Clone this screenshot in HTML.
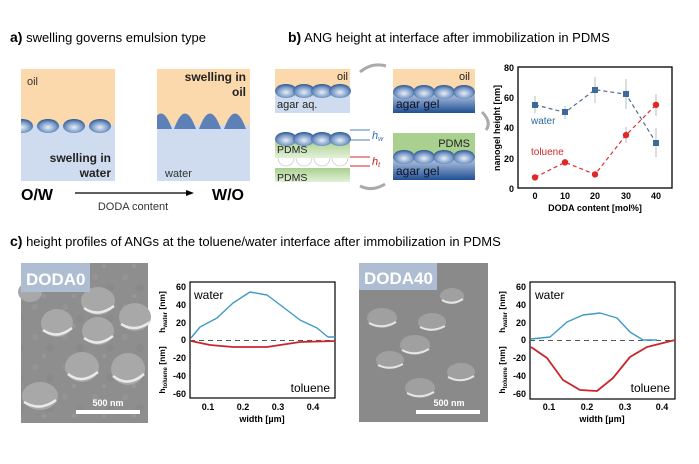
<!DOCTYPE html>
<html><head><meta charset="utf-8"><style>
body{margin:0;background:#fff;}
svg{display:block;font-family:"Liberation Sans",Arial,sans-serif;}
</style></head><body>
<svg width="699" height="464" viewBox="0 0 699 464" xmlns="http://www.w3.org/2000/svg">
<defs>
<radialGradient id="ng" cx="0.5" cy="0.6" r="0.6"><stop offset="0" stop-color="#e8eef6"/><stop offset="0.6" stop-color="#7c9cc8"/><stop offset="1" stop-color="#2d5591"/></radialGradient>
<linearGradient id="gel" x1="0" y1="0" x2="0" y2="1"><stop offset="0" stop-color="#c9d7ee"/><stop offset="1" stop-color="#1f4f93"/></linearGradient>
<linearGradient id="pd" x1="0" y1="0" x2="0" y2="1"><stop offset="0" stop-color="#a9d08e"/><stop offset="1" stop-color="#e2f0d8"/></linearGradient>
<pattern id="semA" width="30" height="30" patternUnits="userSpaceOnUse"><rect width="30" height="30" fill="#8e8e8e"/><circle cx="5" cy="7" r="3" fill="#949494"/><circle cx="20" cy="18" r="4" fill="#8a8a8a"/><circle cx="14" cy="26" r="2" fill="#979797"/></pattern>
<g id="dome"><ellipse cx="0" cy="0" rx="11" ry="7" fill="url(#ng)"/></g>
</defs>

<text x="10" y="42" font-size="13"><tspan font-weight="bold" font-size="14">a)</tspan> swelling governs emulsion type</text>
<text x="288" y="42" font-size="13"><tspan font-weight="bold" font-size="14">b)</tspan> ANG height at interface after immobilization in PDMS</text>
<text x="10" y="246" font-size="13"><tspan font-weight="bold" font-size="14">c)</tspan>  height profiles of ANGs at the toluene/water interface after immobilization in PDMS</text>

<!-- panel a -->
<clipPath id="ca"><rect x="21" y="69" width="94" height="112"/></clipPath>
<clipPath id="cb"><rect x="157" y="69" width="93" height="112"/></clipPath>
<rect x="21" y="69" width="94" height="56" fill="#fbd9ad"/>
<rect x="21" y="125" width="94" height="56" fill="#cfdcef"/>
<g clip-path="url(#ca)"><use href="#dome" x="22" y="126"/><use href="#dome" x="48" y="126"/><use href="#dome" x="74" y="126"/><use href="#dome" x="100" y="126"/></g>
<text x="27" y="85" font-size="11" fill="#333">oil</text>
<text x="111" y="162" font-size="12" font-weight="bold" text-anchor="end" fill="#222">swelling in</text>
<text x="111" y="177" font-size="12" font-weight="bold" text-anchor="end" fill="#222">water</text>
<rect x="157" y="69" width="93" height="56" fill="#fbd9ad"/>
<rect x="157" y="125" width="93" height="56" fill="#cfdcef"/>
<g clip-path="url(#cb)"><path d="M150 129 Q161 98 172 129Z M174 129 Q185 98 196 129Z M199 129 Q210 98 221 129Z M224 129 Q235 98 246 129Z" fill="#5d80b8"/></g>
<text x="246" y="81" font-size="12" font-weight="bold" text-anchor="end" fill="#222">swelling in</text>
<text x="246" y="96" font-size="12" font-weight="bold" text-anchor="end" fill="#222">oil</text>
<text x="165" y="177" font-size="11" fill="#333">water</text>
<text x="21" y="200" font-size="16" font-weight="bold">O/W</text>
<text x="212" y="200" font-size="16" font-weight="bold">W/O</text>
<line x1="75" y1="193" x2="188" y2="193" stroke="#000" stroke-width="1.3"/>
<polygon points="194,193 186,190 186,196" fill="#000"/>
<text x="133" y="210" font-size="11" text-anchor="middle" fill="#333">DODA content</text>

<!-- panel b schematics -->
<rect x="275" y="69" width="75" height="22" fill="#fbd9ad"/>
<rect x="275" y="91" width="75" height="22" fill="#cfdcef"/>
<use href="#dome" x="286" y="91"/><use href="#dome" x="304" y="91"/><use href="#dome" x="322" y="91"/><use href="#dome" x="340" y="91"/>
<text x="277" y="108" font-size="11" fill="#222">agar aq.</text>
<text x="337" y="80" font-size="11" fill="#222">oil</text>
<rect x="275" y="140" width="75" height="18" fill="url(#pd)"/>
<use href="#dome" x="286" y="139"/><use href="#dome" x="304" y="139"/><use href="#dome" x="322" y="139"/><use href="#dome" x="340" y="139"/>
<text x="277" y="153" font-size="10.5" fill="#222">PDMS</text>
<rect x="275" y="168" width="75" height="14" fill="url(#pd)"/>
<g fill="#fff" stroke="#bbb" stroke-width="0.6"><path d="M278 158 a8 8 0 0 0 16 0"/><path d="M296 158 a8 8 0 0 0 16 0"/><path d="M314 158 a8 8 0 0 0 16 0"/><path d="M332 158 a8 8 0 0 0 16 0"/></g>
<text x="277" y="181" font-size="10.5" fill="#222">PDMS</text>
<line x1="350" y1="130" x2="370" y2="130" stroke="#4a7fc0"/><line x1="350" y1="140" x2="370" y2="140" stroke="#4a7fc0"/>
<text x="372" y="139" font-size="11" font-style="italic" fill="#2f6db5">h<tspan font-size="7" dy="2">w</tspan></text>
<line x1="350" y1="157" x2="370" y2="157" stroke="#d02828"/><line x1="350" y1="166" x2="370" y2="166" stroke="#d02828"/>
<text x="372" y="165" font-size="11" font-style="italic" fill="#c02020">h<tspan font-size="7" dy="2">t</tspan></text>
<rect x="393" y="69" width="82" height="22" fill="#fbd9ad"/>
<rect x="393" y="91" width="82" height="22" fill="url(#gel)"/>
<use href="#dome" x="404" y="92"/><use href="#dome" x="424" y="92"/><use href="#dome" x="444" y="92"/><use href="#dome" x="464" y="92"/>
<text x="470" y="80" font-size="11" text-anchor="end" fill="#222">oil</text>
<text x="396" y="108" font-size="12" fill="#112">agar gel</text>
<rect x="393" y="133" width="82" height="23" fill="#a9d08e"/>
<rect x="393" y="156" width="82" height="24" fill="url(#gel)"/>
<use href="#dome" x="404" y="157"/><use href="#dome" x="424" y="157"/><use href="#dome" x="444" y="157"/><use href="#dome" x="464" y="157"/>
<text x="470" y="147" font-size="11" text-anchor="end" fill="#222">PDMS</text>
<text x="396" y="175" font-size="12" fill="#112">agar gel</text>
<g fill="none" stroke="#aaa" stroke-width="3"><path d="M360 72 Q372 62 386 66"/><path d="M482 112 Q492 122 486 130"/><path d="M385 184 Q372 192 360 186"/></g>

<!-- chart b -->
<rect x="518" y="67" width="154" height="121" fill="none" stroke="#000" stroke-width="1.3"/>
<g font-size="9" font-weight="bold" text-anchor="end">
<text x="514" y="71">80</text><text x="514" y="101">60</text><text x="514" y="131">40</text><text x="514" y="162">20</text><text x="514" y="192">0</text></g>
<g font-size="9" font-weight="bold" text-anchor="middle">
<text x="535" y="199">0</text><text x="565" y="199">10</text><text x="595" y="199">20</text><text x="626" y="199">30</text><text x="656" y="199">40</text></g>
<text x="595" y="211" font-size="9" font-weight="bold" text-anchor="middle">DODA content [mol%]</text>
<text transform="translate(500,128) rotate(-90)" font-size="9" font-weight="bold" text-anchor="middle">nanogel height [nm]</text>
<g stroke="#bbb" stroke-width="1"><line x1="565" y1="106" x2="565" y2="119"/><line x1="595" y1="77" x2="595" y2="103"/><line x1="626" y1="79" x2="626" y2="109"/><line x1="656" y1="128" x2="656" y2="157"/><line x1="535" y1="96" x2="535" y2="113"/><line x1="656" y1="94" x2="656" y2="116"/><line x1="626" y1="127" x2="626" y2="143"/></g>
<polyline points="535,104.8 565,112.4 595,89.7 626,94.2 656,142.6" fill="none" stroke="#4f6f8f" stroke-width="1.2" stroke-dasharray="4,3"/>
<polyline points="535,177.4 565,162.3 595,174.4 626,135.1 656,104.8" fill="none" stroke="#e03030" stroke-width="1.2" stroke-dasharray="4,3"/>
<g fill="#3d6a99"><rect x="532" y="102" width="6" height="6"/><rect x="562" y="109" width="6" height="6"/><rect x="592" y="87" width="6" height="6"/><rect x="623" y="91" width="6" height="6"/><rect x="653" y="140" width="6" height="6"/></g>
<g fill="#e02828"><circle cx="535" cy="177.4" r="3.2"/><circle cx="565" cy="162.3" r="3.2"/><circle cx="595" cy="174.4" r="3.2"/><circle cx="626" cy="135.1" r="3.2"/><circle cx="656" cy="104.8" r="3.2"/></g>
<text x="531" y="124" font-size="10" fill="#2f6a9c">water</text>
<text x="531" y="155" font-size="10" fill="#d02828">toluene</text>

<!-- SEM images -->
<rect x="21" y="263" width="127" height="160" fill="url(#semA)"/>
<g fill="#a8a8a8"><ellipse cx="98" cy="301" rx="17" ry="14"/><ellipse cx="57" cy="323" rx="16" ry="14"/><ellipse cx="98" cy="331" rx="16" ry="14"/><ellipse cx="135" cy="317" rx="16" ry="14"/><ellipse cx="82" cy="367" rx="17" ry="15"/><ellipse cx="128" cy="369" rx="17" ry="16"/><ellipse cx="40" cy="396" rx="18" ry="14"/><ellipse cx="30" cy="292" rx="12" ry="10"/></g>
<g fill="none" stroke="#eaeaea" stroke-width="2.5"><path d="M84 308 Q98 318 114 306"/><path d="M43 330 Q57 340 72 328"/><path d="M84 338 Q98 348 113 336"/><path d="M121 324 Q135 333 150 322"/><path d="M68 374 Q82 385 98 372"/><path d="M113 376 Q128 388 144 374"/><path d="M24 402 Q40 412 56 400"/></g>
<rect x="21" y="263" width="69" height="29" fill="#aebdd1"/>
<text x="26" y="285" font-size="17" font-weight="bold" fill="#fff">DODA0</text>
<rect x="76" y="410" width="64" height="4" fill="#fff"/>
<text x="108" y="406" font-size="9" font-weight="bold" fill="#fff" text-anchor="middle">500 nm</text>

<rect x="359" y="263" width="129" height="159" fill="#8a8a8a"/>
<g fill="#a0a0a0"><ellipse cx="452" cy="296" rx="12" ry="8"/><ellipse cx="382" cy="318" rx="15" ry="10"/><ellipse cx="432" cy="322" rx="14" ry="9"/><ellipse cx="415" cy="345" rx="15" ry="10"/><ellipse cx="390" cy="360" rx="14" ry="9"/><ellipse cx="461" cy="372" rx="14" ry="9"/><ellipse cx="420" cy="388" rx="15" ry="10"/></g>
<g fill="none" stroke="#e6e6e6" stroke-width="2"><path d="M442 300 Q452 306 463 299"/><path d="M369 323 Q382 330 396 322"/><path d="M420 327 Q432 333 445 326"/><path d="M402 350 Q415 357 429 349"/><path d="M378 365 Q390 371 403 364"/><path d="M448 377 Q461 384 474 376"/><path d="M407 393 Q420 400 434 392"/></g>
<rect x="359" y="263" width="78" height="27" fill="#aebdd1"/>
<text x="364" y="284" font-size="17" font-weight="bold" fill="#fff">DODA40</text>
<rect x="416" y="410" width="64" height="4" fill="#fff"/>
<text x="449" y="406" font-size="9" font-weight="bold" fill="#fff" text-anchor="middle">500 nm</text>

<!-- chart c1 -->
<g>
<rect x="190" y="282" width="145" height="116" fill="none" stroke="#000" stroke-width="1.2"/>
<g font-size="9" font-weight="bold" text-anchor="end">
<text x="186" y="290">60</text><text x="186" y="308">40</text><text x="186" y="326">20</text><text x="186" y="343">0</text><text x="186" y="361">-20</text><text x="186" y="379">-40</text><text x="186" y="397">-60</text></g>
<g font-size="9" font-weight="bold" text-anchor="middle"><text x="208" y="410">0.1</text><text x="243" y="410">0.2</text><text x="278" y="410">0.3</text><text x="313" y="410">0.4</text></g>
<text x="262" y="422" font-size="9" font-weight="bold" text-anchor="middle">width [µm]</text>
<text transform="translate(165,312) rotate(-90)" font-size="8.5" font-weight="bold" text-anchor="middle">h<tspan font-size="6" dy="2">water</tspan><tspan dy="-2"> [nm]</tspan></text>
<text transform="translate(165,370) rotate(-90)" font-size="8.5" font-weight="bold" text-anchor="middle">h<tspan font-size="6" dy="2">toluene</tspan><tspan dy="-2"> [nm]</tspan></text>
<line x1="190" y1="340.5" x2="335" y2="340.5" stroke="#555" stroke-dasharray="5,4"/>
<polyline points="191,338 200,327 217,318 233,303 250,292 267,295 283,307 300,320 317,328 328,337 335,337" fill="none" stroke="#3d9ac7" stroke-width="1.4" stroke-linejoin="round"/>
<polyline points="191,341 210,345 233,347 267,347 300,342 335,341" fill="none" stroke="#c9262c" stroke-width="1.8" stroke-linejoin="round"/>
<text x="194" y="299" font-size="12">water</text>
<text x="330" y="392" font-size="12" text-anchor="end">toluene</text>
</g>

<!-- chart c2 -->
<g>
<rect x="530" y="282" width="145" height="117" fill="none" stroke="#000" stroke-width="1.2"/>
<g font-size="9" font-weight="bold" text-anchor="end">
<text x="526" y="290">60</text><text x="526" y="308">40</text><text x="526" y="326">20</text><text x="526" y="343">0</text><text x="526" y="361">-20</text><text x="526" y="379">-40</text><text x="526" y="397">-60</text></g>
<g font-size="9" font-weight="bold" text-anchor="middle"><text x="549" y="410">0.1</text><text x="587" y="410">0.2</text><text x="625" y="410">0.3</text><text x="662" y="410">0.4</text></g>
<text x="602" y="422" font-size="9" font-weight="bold" text-anchor="middle">width [µm]</text>
<text transform="translate(505,312) rotate(-90)" font-size="8.5" font-weight="bold" text-anchor="middle">h<tspan font-size="6" dy="2">water</tspan><tspan dy="-2"> [nm]</tspan></text>
<text transform="translate(505,370) rotate(-90)" font-size="8.5" font-weight="bold" text-anchor="middle">h<tspan font-size="6" dy="2">toluene</tspan><tspan dy="-2"> [nm]</tspan></text>
<line x1="530" y1="340.5" x2="675" y2="340.5" stroke="#555" stroke-dasharray="5,4"/>
<polyline points="531,339 550,337 567,322 583,315 600,313 617,318 630,332 643,340 657,340" fill="none" stroke="#3d9ac7" stroke-width="1.4" stroke-linejoin="round"/>
<polyline points="531,347 547,358 563,380 580,390 597,391 613,378 630,357 647,347 663,343 675,340" fill="none" stroke="#c9262c" stroke-width="1.8" stroke-linejoin="round"/>
<text x="535" y="299" font-size="12">water</text>
<text x="670" y="392" font-size="12" text-anchor="end">toluene</text>
</g>
</svg>
</body></html>
